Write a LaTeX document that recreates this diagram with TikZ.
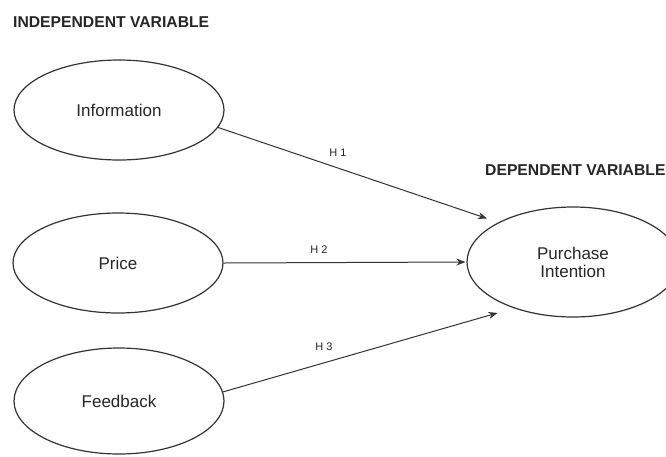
\documentclass[tikz,border=0pt]{standalone}
\usepackage{fontspec}
\setmainfont{Liberation Sans}
\usetikzlibrary{shapes.geometric,arrows.meta}

\tikzset{
  construct/.style={draw=black!80, line width=1.2pt, ellipse, inner sep=0pt,
    minimum width=210pt, minimum height=100pt, align=center,
    font=\fontsize{17}{19}\selectfont, text=black!85},
  heading/.style={anchor=west, inner sep=0pt, font=\bfseries\fontsize{15.7}{18}\selectfont, text=black!85},
  hyp/.style={inner sep=0pt, font=\fontsize{11}{13}\selectfont, text=black!85},
  link/.style={draw=black!80, line width=1pt, -{Stealth[length=9pt,width=7pt]}}
}

\begin{document}
\begin{tikzpicture}[x=1pt, y=-1pt]
  \useasboundingbox (0,0) rectangle (666,456);
  \clip (0,0) rectangle (666,456);
  \fill[white] (0,0) rectangle (666,456);

  % headings
  \node[heading] (indep) at (13,22) {INDEPENDENT VARIABLE};
  \node[heading] (dep) at (485,170) {DEPENDENT VARIABLE};

  % independent constructs
  \node[construct] (info) at (119,110) {Information};
  \node[construct] (price) at (118,263) {Price};
  \node[construct, minimum height=106pt] (feed) at (119,401) {Feedback};

  % dependent construct
  \node[construct, minimum width=212pt, minimum height=110pt] (pi) at (573,262)
    {Purchase\\[-1pt]Intention};

  % hypothesised paths
  \draw[link, shorten >=12pt] (info.-10) -- (pi.152);
  \draw[link, shorten >=1pt] (price.east) -- (pi.west);
  \draw[link, shorten >=17pt] (feed.5) -- (pi.-142);

  % path labels
  \node[hyp] (h1) at (338,153) {H 1};
  \node[hyp] (h2) at (319,250) {H 2};
  \node[hyp] (h3) at (324,347) {H 3};
\end{tikzpicture}
\end{document}
